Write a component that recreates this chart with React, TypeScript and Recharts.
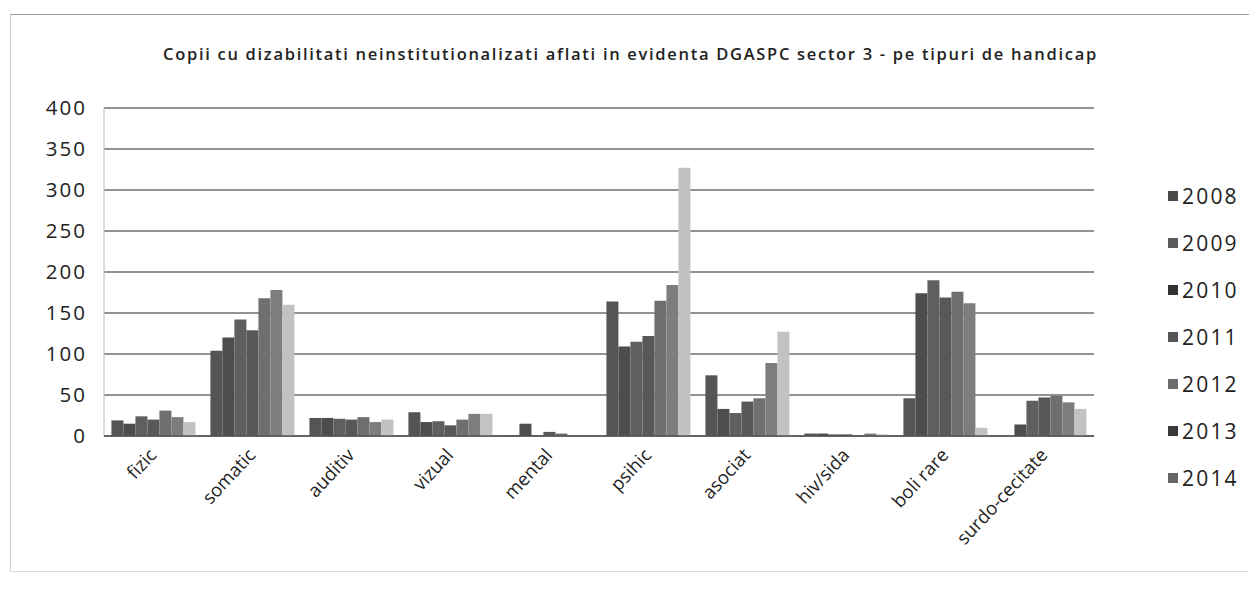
import React from "react";
import { BarChart, Bar, XAxis, YAxis, CartesianGrid } from "recharts";

const categories = ["fizic", "somatic", "auditiv", "vizual", "mental", "psihic", "asociat", "hiv/sida", "boli rare", "surdo-cecitate"];
const years = ["2008", "2009", "2010", "2011", "2012", "2013", "2014"];

const v2008 = [19, 104, 22, 29, 1, 164, 74, 3, 46, 0];
const v2009 = [15, 120, 22, 17, 15, 109, 33, 3, 174, 14];
const v2010 = [24, 142, 21, 18, 1, 115, 28, 2, 190, 43];
const v2011 = [20, 129, 20, 13, 5, 122, 42, 2, 169, 47];
const v2012 = [31, 168, 23, 20, 3, 165, 46, 1, 176, 49];
const v2013 = [23, 178, 17, 27, 0, 184, 89, 3, 162, 41];
const v2014 = [17, 160, 20, 27, 0, 327, 127, 2, 10, 33];

const yTicks = [0, 50, 100, 150, 200, 250, 300, 350, 400];

const seriesValues = [v2008, v2009, v2010, v2011, v2012, v2013, v2014];
const colors = ["#555555", "#4d4d4d", "#5f5f5f", "#585858", "#6f6f6f", "#7d7d7d", "#c2c2c2"];
const legendColors = ["#4a4a4a", "#5a5a5a", "#333333", "#555555", "#6a6a6a", "#3a3a3a", "#666666"];

const data = categories.map((name, i) => {
  const row: Record<string, string | number> = { name };
  years.forEach((y, s) => (row[y] = seriesValues[s][i]));
  return row;
});

const FONT = "'Open Sans', sans-serif";

function XTick(props: any) {
  const { x, y, payload } = props;
  const ax = x + 4;
  const ay = y + 12;
  return (
    <text
      x={ax}
      y={ay}
      transform={`rotate(-47, ${ax}, ${ay})`}
      textAnchor="end"
      fontFamily={FONT}
      fontSize={18.5}
      fill="#222"
    >
      {payload.value}
    </text>
  );
}

function LegendBox() {
  return (
    <div style={{ position: "absolute", left: 1168, top: 172, fontFamily: FONT }}>
      {years.map((y, i) => (
        <div key={y} style={{ display: "flex", alignItems: "center", height: 47 }}>
          <span style={{ width: 10, height: 10, background: legendColors[i], marginRight: 4 }} />
          <span style={{ fontSize: 21, color: "#222", letterSpacing: 2.2 }}>{y}</span>
        </div>
      ))}
    </div>
  );
}

export default function App() {
  return (
    <div style={{ position: "fixed", left: 0, top: 0, width: 1255, height: 598, background: "#fff", overflow: "hidden" }}>
      {/* scanned page frame */}
      <div style={{ position: "absolute", left: 10, top: 14, width: 1238, height: 556, borderTop: "1.5px solid #9a9a9a", borderLeft: "1px solid #cfcfcf", borderBottom: "1px solid #dcdcdc" }} />
      <div
        style={{
          position: "absolute",
          left: 0,
          width: 1255,
          top: 42,
          textAlign: "center",
          fontFamily: FONT,
          fontWeight: 600,
          fontSize: 16.5,
          letterSpacing: 1.7,
          color: "#222",
        }}
      >
        <span style={{ position: "relative", left: 3 }}>Copii cu dizabilitati neinstitutionalizati aflati in evidenta DGASPC sector 3 - pe tipuri de handicap</span>
      </div>
      <div style={{ position: "absolute", left: 0, top: 0 }}>
        <BarChart
          width={1255}
          height={598}
          data={data}
          margin={{ top: 108, right: 161, left: 0, bottom: 0 }}
          barCategoryGap="7.5%"
          barGap={0}
        >
          <CartesianGrid vertical={false} stroke="#6e6e6e" strokeWidth={1.5} />
          <YAxis
            width={104}
            domain={[0, 400]}
            ticks={yTicks}
            interval={0}
            tickLine={false}
            tickSize={0}
            tickMargin={17}
            axisLine={{ stroke: "#bbbbbb" }}
            tick={{ fontFamily: FONT, fontSize: 20.5, fill: "#222", letterSpacing: 2 }}
          />
          <XAxis
            dataKey="name"
            height={162}
            interval={0}
            tickLine={false}
            axisLine={{ stroke: "#555555", strokeWidth: 1.5 }}
            tick={<XTick />}
          />
          {years.map((y, i) => (
            <Bar key={y} dataKey={y} fill={colors[i]} isAnimationActive={false} />
          ))}
        </BarChart>
      </div>
      <LegendBox />
    </div>
  );
}
